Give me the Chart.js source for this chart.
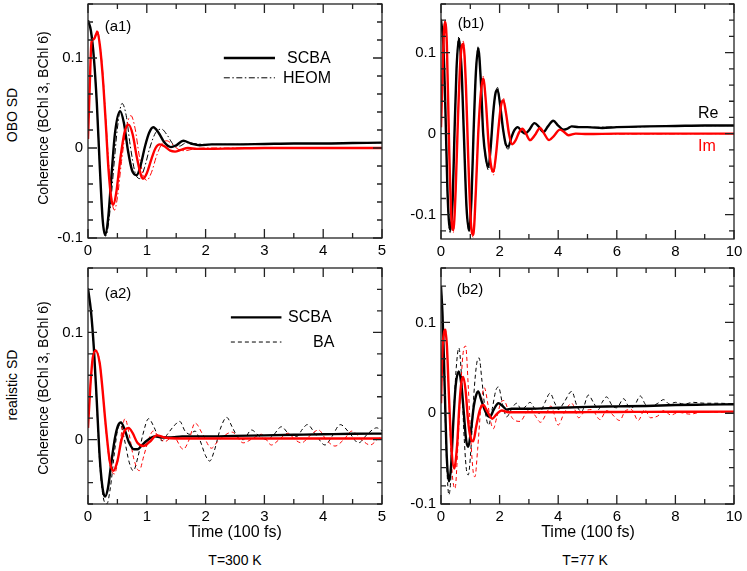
<!DOCTYPE html>
<html><head><meta charset="utf-8">
<script src="https://cdn.jsdelivr.net/npm/chart.js@4.4.1/dist/chart.umd.min.js"></script>
<style>
body{margin:0;background:#fff;width:747px;height:571px;position:relative;overflow:hidden;font-family:"Liberation Sans",Arial,sans-serif;}
.box{position:absolute;}
.t{position:absolute;white-space:nowrap;color:#000;line-height:1;}
.c{transform:translate(-50%,-50%);}
.l{transform:translate(0,-50%);}
.rot{transform:translate(-50%,-50%) rotate(-90deg);}
</style></head><body>
<div class="box" style="left:48px;top:0;width:344px;height:262px"><canvas id="a1"></canvas></div>
<div class="box" style="left:401px;top:0;width:343px;height:262px"><canvas id="b1"></canvas></div>
<div class="box" style="left:48px;top:264px;width:344px;height:264px"><canvas id="a2"></canvas></div>
<div class="box" style="left:401px;top:264px;width:343px;height:264px"><canvas id="b2"></canvas></div>

<div class="t c" style="left:118px;top:25px;font-size:15px">(a1)</div>
<div class="t c" style="left:471px;top:22px;font-size:15px">(b1)</div>
<div class="t c" style="left:118px;top:292px;font-size:15px">(a2)</div>
<div class="t c" style="left:470px;top:288px;font-size:15px">(b2)</div>
<div class="t l" style="left:287px;top:58px;font-size:16px">SCBA</div>
<div class="t l" style="left:283px;top:78px;font-size:16px">HEOM</div>
<div class="t l" style="left:288px;top:317px;font-size:16px">SCBA</div>
<div class="t l" style="left:313px;top:342px;font-size:16px">BA</div>
<div class="t l" style="left:698px;top:113px;font-size:16px">Re</div>
<div class="t l" style="left:698px;top:146px;font-size:16px;color:#f00">Im</div>
<div class="t rot" style="left:43px;top:118px;font-size:14px">Coherence (BChl 3, BChl 6)</div>
<div class="t rot" style="left:43px;top:388px;font-size:14px">Coherence (BChl 3, BChl 6)</div>
<div class="t rot" style="left:12px;top:115px;font-size:14px">OBO SD</div>
<div class="t rot" style="left:12px;top:385px;font-size:14px">realistic SD</div>
<div class="t c" style="left:235px;top:532px;font-size:16px">Time (100 fs)</div>
<div class="t c" style="left:588px;top:532px;font-size:16px">Time (100 fs)</div>
<div class="t c" style="left:235px;top:560px;font-size:14px">T=300 K</div>
<div class="t c" style="left:585px;top:560px;font-size:14px">T=77 K</div>

<script>
// ---- tick labels ----
const yTickValues = [-0.1, 0, 0.1];
const yTickLabels = ['-0.1', '0', '0.1'];
const xTicksA = [0, 1, 2, 3, 4, 5];
const xTicksB = [0, 2, 4, 6, 8, 10];

// ---- (a1) OBO SD, 300 K : [time, value] ----
const a1_scba_re = [[0,0.142],[0.05,0.13],[0.1,0.10],[0.15,0.05],[0.2,-0.02],[0.25,-0.08],[0.29,-0.0965],[0.34,-0.08],[0.4,-0.03],[0.46,0.017],[0.545,0.041],[0.61,0.028],[0.68,-0.003],[0.75,-0.025],[0.83,-0.030],[0.9,-0.018],[0.97,0.002],[1.04,0.017],[1.11,0.023],[1.2,0.017],[1.3,0.006],[1.41,0.001],[1.5,0.003],[1.62,0.008],[1.75,0.005],[1.9,0.003],[2.1,0.004],[2.5,0.004],[3,0.0045],[3.5,0.005],[4,0.005],[4.5,0.0055],[5,0.006]];
const a1_heom_re = [[0,0.142],[0.05,0.13],[0.1,0.10],[0.15,0.05],[0.2,-0.02],[0.25,-0.08],[0.3,-0.098],[0.36,-0.078],[0.44,-0.02],[0.5,0.022],[0.58,0.0495],[0.65,0.036],[0.72,0.002],[0.8,-0.027],[0.88,-0.034],[0.96,-0.022],[1.05,0.0],[1.15,0.017],[1.25,0.021],[1.35,0.014],[1.45,0.004],[1.55,0.002],[1.68,0.006],[1.8,0.005],[2.0,0.004],[2.5,0.004],[3,0.0045],[3.5,0.005],[4,0.005],[4.5,0.0055],[5,0.006]];
const a1_scba_im = [[0,0.01],[0.03,0.07],[0.06,0.118],[0.1,0.121],[0.16,0.129],[0.2,0.115],[0.25,0.08],[0.3,0.03],[0.35,-0.025],[0.4,-0.058],[0.43,-0.063],[0.48,-0.05],[0.55,-0.012],[0.62,0.017],[0.69,0.026],[0.76,0.015],[0.83,-0.01],[0.9,-0.03],[0.94,-0.034],[1.0,-0.028],[1.08,-0.012],[1.15,0.0],[1.22,0.004],[1.3,0.002],[1.4,-0.003],[1.48,-0.004],[1.58,-0.002],[1.7,0.0],[1.85,-0.001],[2.0,-0.001],[2.5,-0.0005],[3,0],[4,0],[5,0]];
const a1_heom_im = [[0,0.01],[0.03,0.07],[0.06,0.118],[0.1,0.122],[0.16,0.131],[0.2,0.117],[0.25,0.085],[0.3,0.035],[0.36,-0.025],[0.41,-0.06],[0.45,-0.069],[0.5,-0.055],[0.57,-0.015],[0.65,0.022],[0.73,0.036],[0.8,0.022],[0.87,-0.008],[0.94,-0.03],[1.0,-0.036],[1.08,-0.027],[1.17,-0.008],[1.26,0.005],[1.34,0.008],[1.45,0.003],[1.55,-0.002],[1.65,-0.003],[1.8,-0.001],[2.0,0.0],[3,0],[5,0]];

// ---- (b1) OBO SD, 77 K ----
const b1_scba_re = [[0,0.14],[0.08,0.11],[0.15,0.03],[0.22,-0.07],[0.31,-0.119],[0.4,-0.08],[0.46,0.0],[0.53,0.08],[0.61,0.117],[0.7,0.08],[0.78,0.0],[0.87,-0.09],[0.96,-0.119],[1.04,-0.08],[1.11,0.0],[1.19,0.075],[1.27,0.105],[1.36,0.065],[1.44,0.0],[1.53,-0.03],[1.62,-0.041],[1.7,-0.015],[1.78,0.025],[1.86,0.05],[1.93,0.054],[2.02,0.035],[2.12,0.005],[2.22,-0.014],[2.3,-0.016],[2.4,-0.005],[2.5,0.004],[2.62,0.008],[2.75,0.003],[2.87,0.0],[3.0,0.004],[3.19,0.013],[3.35,0.008],[3.49,0.002],[3.65,0.009],[3.83,0.016],[4.0,0.01],[4.18,0.005],[4.3,0.006],[4.46,0.009],[4.7,0.008],[5,0.008],[5.5,0.007],[6,0.008],[7,0.009],[8,0.0095],[9,0.01],[10,0.01]];
const b1_heom_re = [[0,0.142],[0.08,0.11],[0.15,0.03],[0.22,-0.072],[0.31,-0.122],[0.4,-0.08],[0.46,0.0],[0.53,0.08],[0.61,0.12],[0.7,0.08],[0.78,0.0],[0.87,-0.09],[0.96,-0.122],[1.04,-0.08],[1.11,0.0],[1.19,0.075],[1.27,0.108],[1.36,0.065],[1.44,0.0],[1.53,-0.032],[1.62,-0.045],[1.7,-0.015],[1.78,0.025],[1.86,0.05],[1.93,0.057],[2.02,0.035],[2.12,0.005],[2.22,-0.016],[2.3,-0.019],[2.4,-0.005],[2.5,0.004],[2.62,0.008],[2.75,0.003],[2.87,0.0],[3.0,0.004],[3.19,0.013],[3.35,0.008],[3.49,0.002],[3.65,0.009],[3.83,0.016],[4.0,0.01],[4.18,0.005],[4.3,0.006],[4.46,0.009],[4.7,0.008],[5,0.008],[6,0.008],[8,0.0095],[10,0.01]];
const b1_scba_im = [[0,0.008],[0.05,0.07],[0.1,0.125],[0.14,0.138],[0.2,0.11],[0.28,-0.02],[0.35,-0.1],[0.42,-0.119],[0.5,-0.07],[0.58,0.02],[0.67,0.095],[0.76,0.111],[0.85,0.06],[0.93,-0.03],[1.02,-0.11],[1.1,-0.125],[1.19,-0.07],[1.27,0.0],[1.36,0.05],[1.44,0.068],[1.53,0.04],[1.62,-0.01],[1.71,-0.04],[1.79,-0.047],[1.88,-0.025],[1.97,0.01],[2.05,0.035],[2.13,0.041],[2.22,0.025],[2.32,0.0],[2.43,-0.013],[2.55,-0.008],[2.67,0.002],[2.78,0.006],[2.9,0.0],[3.04,-0.008],[3.2,-0.002],[3.38,0.007],[3.52,0.0],[3.69,-0.008],[3.85,-0.003],[4.06,0.005],[4.2,0.002],[4.35,-0.002],[4.6,0.0],[5,-0.0005],[6,0],[7,0],[8,0],[9,0],[10,0]];
const b1_heom_im = [[0,0.008],[0.05,0.07],[0.1,0.127],[0.14,0.141],[0.2,0.11],[0.28,-0.02],[0.35,-0.1],[0.42,-0.122],[0.5,-0.07],[0.58,0.02],[0.67,0.095],[0.76,0.114],[0.85,0.06],[0.93,-0.03],[1.02,-0.11],[1.1,-0.128],[1.19,-0.07],[1.27,0.0],[1.36,0.05],[1.44,0.071],[1.53,0.04],[1.62,-0.01],[1.71,-0.042],[1.79,-0.051],[1.88,-0.025],[1.97,0.01],[2.05,0.035],[2.13,0.044],[2.22,0.025],[2.32,0.0],[2.43,-0.013],[2.55,-0.008],[2.67,0.002],[2.78,0.006],[2.9,0.0],[3.04,-0.008],[3.2,-0.002],[3.38,0.007],[3.52,0.0],[3.69,-0.008],[3.85,-0.003],[4.06,0.005],[4.2,0.002],[4.35,-0.002],[4.6,0.0],[5,-0.0005],[10,0]];

// ---- (a2) realistic SD, 300 K ----
const a2_scba_re = [[0,0.141],[0.05,0.12],[0.1,0.085],[0.15,0.035],[0.2,-0.017],[0.25,-0.046],[0.29,-0.053],[0.34,-0.045],[0.4,-0.02],[0.46,0.002],[0.51,0.013],[0.56,0.016],[0.62,0.01],[0.7,-0.003],[0.78,-0.009],[0.845,-0.009],[0.92,-0.005],[1.0,-0.001],[1.08,0.002],[1.14,0.003],[1.25,0.002],[1.4,0.002],[1.6,0.003],[2,0.003],[2.5,0.0035],[3,0.004],[3.5,0.0045],[4,0.005],[4.5,0.0055],[5,0.0056]];
const a2_ba_re = [[0,0.141],[0.05,0.12],[0.1,0.083],[0.15,0.032],[0.2,-0.022],[0.26,-0.054],[0.32,-0.06],[0.38,-0.045],[0.45,-0.012],[0.5,0.008],[0.55,0.014],[0.62,0.0],[0.7,-0.021],[0.77,-0.029],[0.85,-0.016],[0.93,0.004],[1.03,0.0195],[1.12,0.012],[1.2,0.002],[1.26,-0.001],[1.35,0.005],[1.45,0.012],[1.56,0.017],[1.65,0.008],[1.73,0.005],[1.82,0.008],[1.9,0.0],[2.0,-0.015],[2.07,-0.02],[2.15,-0.01],[2.25,0.01],[2.36,0.0207],[2.45,0.012],[2.55,0.002],[2.64,0.0],[2.78,0.009],[2.9,0.004],[3.04,0.0],[3.15,0.004],[3.29,0.012],[3.42,0.005],[3.55,0.003],[3.65,0.01],[3.73,0.014],[3.88,0.004],[4.03,-0.005],[4.15,0.003],[4.29,0.014],[4.45,0.006],[4.6,-0.003],[4.75,0.005],[4.91,0.011],[5,0.008]];
const a2_scba_im = [[0,0.011],[0.04,0.05],[0.08,0.076],[0.13,0.083],[0.2,0.071],[0.25,0.045],[0.29,0.02],[0.37,-0.02],[0.43,-0.029],[0.5,-0.02],[0.57,0.0],[0.63,0.009],[0.69,0.011],[0.76,0.006],[0.84,-0.003],[0.94,-0.006],[1.05,-0.002],[1.17,0.004],[1.3,0.002],[1.5,0.001],[2,0.001],[3,0.001],[4,0.001],[5,0.001]];
const a2_ba_im = [[0,0.011],[0.04,0.05],[0.08,0.076],[0.13,0.084],[0.2,0.072],[0.25,0.045],[0.3,0.012],[0.37,-0.022],[0.45,-0.032],[0.52,-0.015],[0.58,0.01],[0.63,0.0195],[0.7,0.005],[0.78,-0.018],[0.87,-0.029],[0.95,-0.015],[1.03,0.0],[1.11,0.008],[1.2,0.003],[1.3,-0.002],[1.45,0.003],[1.62,-0.009],[1.72,0.0],[1.82,0.0155],[1.95,0.005],[2.1,-0.008],[2.2,-0.002],[2.3,0.003],[2.45,0.007],[2.64,-0.003],[2.8,0.001],[2.95,0.005],[3.12,-0.005],[3.25,0.0],[3.4,0.006],[3.52,0.0],[3.63,-0.003],[3.78,0.004],[3.92,0.009],[4.05,0.0],[4.2,-0.006],[4.35,0.0],[4.49,0.008],[4.65,0.0],[4.8,-0.005],[4.92,0.0],[5,0.003]];

// ---- (b2) realistic SD, 77 K ----
const b2_scba_re = [[0,0.14],[0.05,0.11],[0.1,0.06],[0.15,0.0],[0.2,-0.05],[0.27,-0.075],[0.34,-0.06],[0.42,-0.01],[0.5,0.03],[0.61,0.046],[0.7,0.03],[0.78,0.0],[0.86,-0.03],[0.93,-0.037],[1.02,-0.02],[1.12,0.008],[1.2,0.02],[1.27,0.024],[1.37,0.015],[1.5,0.003],[1.6,-0.003],[1.67,-0.004],[1.8,0.004],[1.96,0.011],[2.1,0.008],[2.24,0.004],[2.4,0.005],[3,0.005],[4,0.006],[5,0.007],[6,0.0075],[7,0.008],[8,0.009],[9,0.0095],[10,0.0099]];
const b2_ba_re = [[0,0.14],[0.05,0.11],[0.1,0.055],[0.15,-0.01],[0.2,-0.06],[0.27,-0.09],[0.34,-0.07],[0.42,-0.01],[0.52,0.05],[0.61,0.072],[0.7,0.04],[0.78,-0.02],[0.86,-0.06],[0.93,-0.068],[1.02,-0.04],[1.12,0.02],[1.22,0.055],[1.3,0.061],[1.4,0.035],[1.52,0.0],[1.62,-0.013],[1.75,0.005],[1.87,0.025],[1.96,0.029],[2.1,0.01],[2.24,-0.004],[2.4,0.004],[2.58,0.011],[2.75,0.004],[2.9,0.008],[3.04,0.012],[3.2,0.005],[3.35,0.0],[3.55,0.012],[3.72,0.022],[3.9,0.01],[4.0,0.004],[4.2,0.012],[4.46,0.024],[4.65,0.007],[4.8,0.002],[5.03,0.02],[5.2,0.012],[5.37,0.004],[5.5,0.012],[5.65,0.018],[5.85,0.008],[6.0,0.006],[6.23,0.016],[6.45,0.006],[6.6,0.008],[6.8,0.019],[7.0,0.009],[7.2,0.008],[7.4,0.011],[7.6,0.015],[7.8,0.01],[8.0,0.012],[8.3,0.01],[8.6,0.012],[9.0,0.011],[9.5,0.011],[10,0.01]];
const b2_scba_im = [[0,0.011],[0.05,0.07],[0.1,0.088],[0.14,0.092],[0.2,0.075],[0.27,0.02],[0.35,-0.035],[0.45,-0.061],[0.55,-0.035],[0.63,0.01],[0.7,0.035],[0.76,0.04],[0.84,0.025],[0.93,-0.01],[1.02,-0.028],[1.1,-0.031],[1.2,-0.015],[1.32,0.003],[1.44,0.009],[1.58,0.002],[1.75,-0.006],[1.9,-0.001],[2.07,0.003],[2.3,0.001],[3,0.001],[4,0.001],[5,0.0012],[6,0.0014],[7,0.0015],[8,0.0016],[9,0.0017],[10,0.0018]];
const b2_ba_im = [[0,0.011],[0.05,0.07],[0.1,0.09],[0.15,0.094],[0.22,0.06],[0.3,-0.01],[0.38,-0.065],[0.48,-0.083],[0.57,-0.04],[0.66,0.02],[0.75,0.065],[0.84,0.074],[0.93,0.03],[1.02,-0.03],[1.1,-0.065],[1.16,-0.07],[1.25,-0.04],[1.37,0.01],[1.48,0.028],[1.6,0.01],[1.7,-0.01],[1.79,-0.017],[1.9,-0.005],[2.05,0.012],[2.15,0.014],[2.3,0.003],[2.45,-0.006],[2.7,-0.009],[2.9,0.0],[3.04,0.005],[3.2,-0.002],[3.4,-0.01],[3.6,0.0],[3.75,0.008],[4.0,-0.013],[4.2,0.0],[4.46,0.011],[4.7,-0.005],[4.9,0.002],[5.14,0.004],[5.43,-0.007],[5.65,0.003],[5.8,0.0],[6.1,-0.008],[6.3,0.003],[6.5,0.004],[6.73,-0.008],[6.95,0.004],[7.15,-0.005],[7.4,-0.003],[7.6,0.003],[7.85,-0.002],[8.1,0.001],[8.5,-0.001],[9.0,0.002],[9.5,0.001],[10,0.002]];

const pts = arr => arr.map(p => ({x: p[0], y: p[1]}));
const FONT = '"Liberation Sans", Arial, sans-serif';

function solid(data, color) {
  return {data: pts(data), borderColor: color, borderWidth: 2.4, pointRadius: 0, cubicInterpolationMode: 'monotone', fill: false};
}
function dashed(data, color, dash) {
  return {data: pts(data), borderColor: color, borderWidth: 1, borderDash: dash, pointRadius: 0, cubicInterpolationMode: 'monotone', fill: false};
}

const framePlugin = {
  id: 'frame',
  afterDatasetsDraw(chart, args, opts) {
    const ctx = chart.ctx, a = chart.chartArea, xs = chart.scales.x, ys = chart.scales.y;
    ctx.save();
    ctx.strokeStyle = '#222';
    ctx.lineWidth = 1.3;
    ctx.beginPath();
    const tick = (px, len, vertical) => {
      if (vertical) {
        ctx.moveTo(px, a.bottom); ctx.lineTo(px, a.bottom - len);
        ctx.moveTo(px, a.top); ctx.lineTo(px, a.top + len);
      } else {
        ctx.moveTo(a.left, px); ctx.lineTo(a.left + len, px);
        ctx.moveTo(a.right, px); ctx.lineTo(a.right - len, px);
      }
    };
    const eps = 1e-9;
    for (let i = 0; xs.min + i * opts.xMinor <= xs.max + eps; i++) {
      const v = xs.min + i * opts.xMinor;
      const major = Math.abs(v / opts.xMajor - Math.round(v / opts.xMajor)) < 1e-6;
      tick(xs.getPixelForValue(v), major ? 9 : 5, true);
    }
    const start = Math.ceil(ys.min / 0.02 - 1e-6);
    for (let k = start; k * 0.02 <= ys.max + eps; k++) {
      const v = k * 0.02;
      const major = k % 5 === 0;
      tick(ys.getPixelForValue(v), major ? 9 : 5, false);
    }
    ctx.stroke();
    ctx.strokeRect(a.left, a.top, a.right - a.left, a.bottom - a.top);
    // legend samples
    (opts.legend || []).forEach(l => {
      ctx.beginPath();
      ctx.strokeStyle = l.color; ctx.lineWidth = l.width; ctx.setLineDash(l.dash || []);
      const y = ys.getPixelForValue(l.y);
      ctx.moveTo(xs.getPixelForValue(l.x1), y); ctx.lineTo(xs.getPixelForValue(l.x2), y);
      ctx.stroke();
    });
    ctx.restore();
  }
};

function makeChart(id, datasets, xmax, xTicks, xMajor, xMinor, ymin, ymax, xh, legend) {
  new Chart(document.getElementById(id), {
    type: 'line',
    data: {datasets},
    options: {
      responsive: true, maintainAspectRatio: false, animation: false,
      layout: {padding: {top: 4, right: 10, left: 0, bottom: 0}},
      plugins: {legend: {display: false}, tooltip: {enabled: false}, frame: {xMajor, xMinor, legend}},
      scales: {
        x: {type: 'linear', min: 0, max: xmax,
            grid: {display: false, drawTicks: false}, border: {display: false},
            afterBuildTicks: s => { s.ticks = xTicks.map(v => ({value: v})); },
            ticks: {padding: 4, color: '#000', font: {family: FONT, size: 15}, maxRotation: 0, autoSkip: false,
                    callback: v => String(v)},
            afterFit: s => { s.height = xh; s.paddingLeft = 0; s.paddingRight = 0; }},
        y: {type: 'linear', min: ymin, max: ymax,
            grid: {display: false, drawTicks: false}, border: {display: false},
            afterBuildTicks: s => { s.ticks = yTickValues.filter(v => v >= ymin && v <= ymax).map(v => ({value: v})); },
            ticks: {padding: 5, color: '#000', font: {family: FONT, size: 15}, autoSkip: false,
                    callback: v => yTickLabels[yTickValues.findIndex(t => Math.abs(t - v) < 1e-9)]},
            afterFit: s => { s.width = 40; s.paddingTop = 0; s.paddingBottom = 0; }}
      }
    },
    plugins: [framePlugin]
  });
}

const RED = '#ff0000', BLK = '#000000';
const DASHDOT = [6, 2.5, 1.5, 2.5], DASH = [4, 3];

makeChart('a1', [
  solid(a1_scba_im, RED), solid(a1_scba_re, BLK),
  dashed(a1_heom_im, RED, DASHDOT), dashed(a1_heom_re, BLK, DASHDOT)
], 5, xTicksA, 1, 0.5, -0.1, 0.16, 24, [
  {x1: 2.31, x2: 3.18, y: 0.1, color: BLK, width: 2.4},
  {x1: 2.31, x2: 3.18, y: 0.078, color: BLK, width: 1, dash: DASHDOT}
]);
makeChart('b1', [
  solid(b1_scba_im, RED), solid(b1_scba_re, BLK),
  dashed(b1_heom_im, RED, DASHDOT), dashed(b1_heom_re, BLK, DASHDOT)
], 10, xTicksB, 2, 1, -0.13, 0.16, 23, []);
makeChart('a2', [
  solid(a2_scba_im, RED), solid(a2_scba_re, BLK),
  dashed(a2_ba_im, RED, DASH), dashed(a2_ba_re, BLK, DASH)
], 5, xTicksA, 1, 0.5, -0.06, 0.16, 24, [
  {x1: 2.43, x2: 3.29, y: 0.114, color: BLK, width: 2.4},
  {x1: 2.43, x2: 3.29, y: 0.091, color: BLK, width: 1, dash: DASH}
]);
makeChart('b2', [
  solid(b2_scba_im, RED), solid(b2_scba_re, BLK),
  dashed(b2_ba_im, RED, DASH), dashed(b2_ba_re, BLK, DASH)
], 10, xTicksB, 2, 1, -0.1, 0.16, 24, []);
</script>
</body></html>
